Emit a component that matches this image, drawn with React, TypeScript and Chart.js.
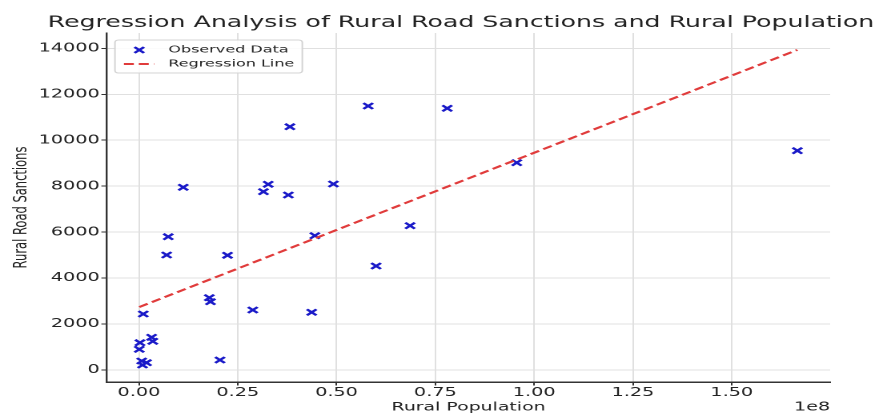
import { useEffect, useRef } from "react";
import { Chart, registerables } from "chart.js";

Chart.register(...registerables);

// ---- data ----
const ruralPopulation = [
  1090000, 250000, 80000, 3200000, 3500000, 700000, 1900000, 900000,
  11200000, 7400000, 7000000, 22400000, 17800000, 18100000, 20500000,
  28800000, 31500000, 32700000, 37800000, 38200000, 44500000, 43700000,
  49200000, 58000000, 60000000, 68600000, 78000000, 95600000, 166600000,
];
const roadSanctions = [
  2437, 1188, 901, 1423, 1249, 392, 318, 218,
  7951, 5801, 5005, 4992, 3147, 2972, 435,
  2611, 7760, 8082, 7616, 10588, 5845, 2511,
  8095, 11489, 4526, 6280, 11389, 9022, 9544,
];
const regressionX = [80000, 166600000];
const regressionY = [2740, 13930];

const chartTitle = "Regression Analysis of Rural Road Sanctions and Rural Population";
const xAxisLabel = "Rural Population";
const yAxisLabel = "Rural Road Sanctions";
const xOffsetLabel = "1e8";
const seriesLabels = ["Observed Data", "Regression Line"];

const xRange = [-8100000, 174900000];
const yRange = [-522, 14666];
const xTickValues = [0, 25000000, 50000000, 75000000, 100000000, 125000000, 150000000];
const yTickValues = [0, 2000, 4000, 6000, 8000, 10000, 12000, 14000];

// ---- styling ----
const CANVAS_W = 559;
const CANVAS_H = 417;
const FONT = "'DejaVu Sans', sans-serif";
const TEXT = "#222222";
const POINT_BLUE = "#1a1ac8";
const LINE_RED = "#e03b3b";
const GRID = "#e0e0e0";
const SPINE = "#333333";
const DASH = [6.2, 3.1];
const POINT_R = 4.2;

const insideLegend = {
  id: "insideLegend",
  afterDatasetsDraw(chart: any) {
    const { ctx, chartArea } = chart;
    const labels = chart.data.datasets.map((d: any) => d.label);
    const bx = chartArea.left + 5;
    const by = chartArea.top + 7;
    const bw = 117;
    const bh = 33;
    ctx.save();
    ctx.beginPath();
    const r = 2.5;
    ctx.moveTo(bx + r, by);
    ctx.lineTo(bx + bw - r, by);
    ctx.quadraticCurveTo(bx + bw, by, bx + bw, by + r);
    ctx.lineTo(bx + bw, by + bh - r);
    ctx.quadraticCurveTo(bx + bw, by + bh, bx + bw - r, by + bh);
    ctx.lineTo(bx + r, by + bh);
    ctx.quadraticCurveTo(bx, by + bh, bx, by + bh - r);
    ctx.lineTo(bx, by + r);
    ctx.quadraticCurveTo(bx, by, bx + r, by);
    ctx.closePath();
    ctx.fillStyle = "rgba(255,255,255,0.85)";
    ctx.fill();
    ctx.strokeStyle = "#d4d4d4";
    ctx.lineWidth = 1;
    ctx.stroke();

    const row1 = by + 10;
    const row2 = by + 24;
    const mx = bx + 15.2;
    const o = POINT_R * Math.SQRT1_2;
    ctx.beginPath();
    ctx.moveTo(mx - o, row1 - o);
    ctx.lineTo(mx + o, row1 + o);
    ctx.moveTo(mx - o, row1 + o);
    ctx.lineTo(mx + o, row1 - o);
    ctx.strokeStyle = POINT_BLUE;
    ctx.lineWidth = 2;
    ctx.stroke();
    ctx.beginPath();
    ctx.setLineDash(DASH);
    ctx.moveTo(bx + 5.6, row2);
    ctx.lineTo(bx + 24.4, row2);
    ctx.strokeStyle = LINE_RED;
    ctx.lineWidth = 2;
    ctx.stroke();
    ctx.setLineDash([]);
    ctx.fillStyle = TEXT;
    ctx.font = `10px ${FONT}`;
    ctx.textAlign = "left";
    ctx.textBaseline = "middle";
    ctx.fillText(labels[0], bx + 33.3, row1);
    ctx.fillText(labels[1], bx + 33.3, row2);
    ctx.restore();
  },
};

export default function App() {
  const ref = useRef<HTMLCanvasElement>(null);

  useEffect(() => {
    const canvas = ref.current;
    if (!canvas) return;
    const scatterData = ruralPopulation.map((x, i) => ({ x, y: roadSanctions[i] }));
    const lineData = regressionX.map((x, i) => ({ x, y: regressionY[i] }));
    const tickFont = { family: FONT, size: 12 };
    const labelFont = { family: FONT, size: 11.8 };
    const chart = new Chart(canvas, {
      type: "scatter",
      data: {
        datasets: [
          {
            label: seriesLabels[0],
            data: scatterData,
            pointStyle: "crossRot",
            pointRadius: POINT_R,
            pointBorderWidth: 2,
            borderColor: POINT_BLUE,
            backgroundColor: POINT_BLUE,
            order: 2,
          },
          {
            label: seriesLabels[1],
            data: lineData,
            showLine: true,
            borderColor: LINE_RED,
            backgroundColor: LINE_RED,
            borderWidth: 2,
            borderDash: DASH,
            pointRadius: 0,
            fill: false,
            order: 1,
          } as any,
        ],
      },
      options: {
        animation: false,
        responsive: false,
        devicePixelRatio: 2,
        events: [],
        layout: { padding: { left: 24.8, right: 8, top: 0, bottom: 0 } },
        plugins: {
          legend: { display: false },
          tooltip: { enabled: false },
          title: {
            display: true,
            text: chartTitle,
            color: TEXT,
            font: { family: FONT, size: 15.75, weight: "normal" },
            padding: { top: 13.5, bottom: 0.6 },
          },
        },
        scales: {
          x: {
            type: "linear",
            position: "bottom",
            weight: 0,
            min: xRange[0],
            max: xRange[1],
            afterFit: (s: any) => {
              s.height = 35;
            },
            afterBuildTicks: (s: any) => {
              s.ticks = xTickValues.map((value) => ({ value }));
            },
            ticks: {
              autoSkip: false,
              maxRotation: 0,
              padding: 0,
              color: TEXT,
              font: tickFont,
              callback: (v: any) => (Number(v) / 1e8).toFixed(2),
            },
            grid: { color: GRID, lineWidth: 1, tickLength: 3.5, tickColor: SPINE },
            border: { display: true, color: SPINE, width: 1.5 },
            title: {
              display: true,
              text: xAxisLabel,
              color: TEXT,
              font: labelFont,
              padding: { top: 0, bottom: 2.6 },
            },
          },
          xOffset: {
            type: "linear",
            position: "bottom",
            weight: 1,
            min: 0,
            max: 1,
            display: true,
            afterFit: (s: any) => {
              s.height = 0;
            },
            ticks: { display: false },
            grid: { display: false },
            border: { display: false },
            title: {
              display: true,
              text: xOffsetLabel,
              align: "end",
              color: TEXT,
              font: tickFont,
              padding: { top: 0, bottom: 2.6 },
            },
          },
          y: {
            type: "linear",
            position: "left",
            min: yRange[0],
            max: yRange[1],
            afterFit: (s: any) => {
              s.width = 42;
            },
            afterBuildTicks: (s: any) => {
              s.ticks = yTickValues.map((value) => ({ value }));
            },
            ticks: {
              padding: 1,
              autoSkip: false,
              color: TEXT,
              font: tickFont,
              callback: (v: any) => String(v),
            },
            grid: { color: GRID, lineWidth: 1, tickLength: 3.5, tickColor: SPINE },
            border: { display: true, color: SPINE, width: 1.2 },
            title: {
              display: true,
              text: yAxisLabel,
              color: TEXT,
              font: { family: FONT, size: 11.5 },
              padding: { top: -18.2, bottom: 0 },
            },
          },
          yRight: {
            type: "linear",
            position: "right",
            display: true,
            min: 0,
            max: 1,
            afterFit: (s: any) => {
              s.width = 32.5;
            },
            ticks: { display: false },
            grid: { display: false },
            border: { display: false },
          },
        } as any,
      },
      plugins: [insideLegend],
    });
    return () => chart.destroy();
  }, []);

  return (
    <div
      style={{
        position: "fixed",
        left: 0,
        top: 0,
        width: 895,
        height: 417,
        overflow: "hidden",
        background: "#ffffff",
      }}
    >
      <canvas
        ref={ref}
        width={CANVAS_W}
        height={CANVAS_H}
        style={{ width: "895px", height: "417px", display: "block" }}
      />
    </div>
  );
}
